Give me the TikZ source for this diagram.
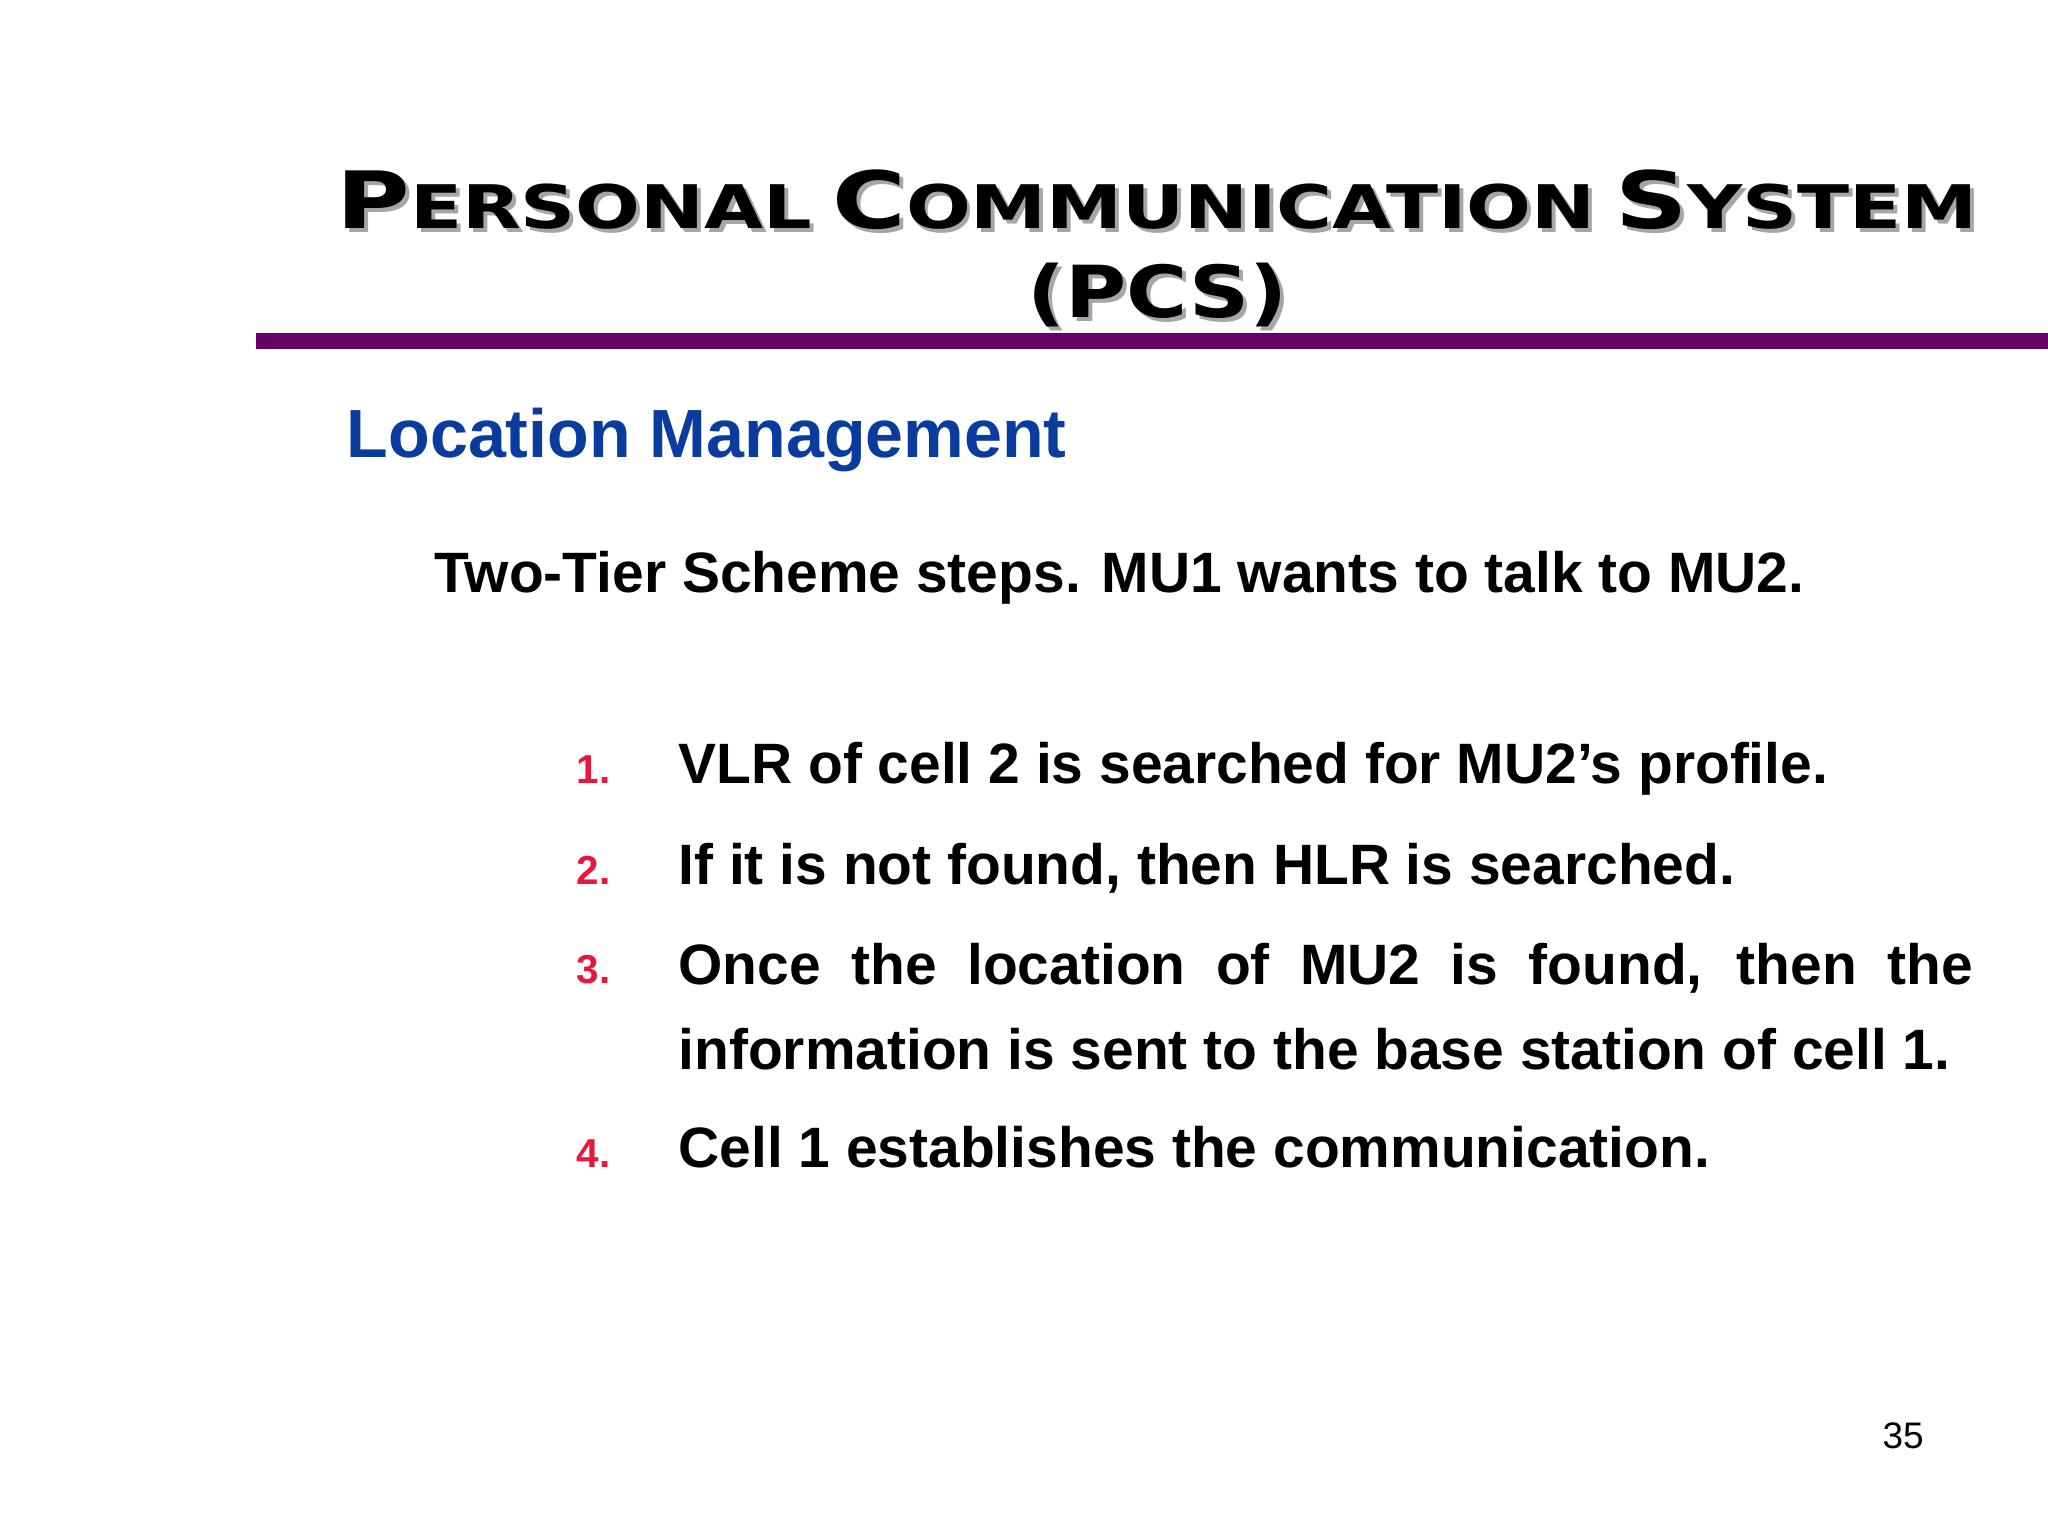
\documentclass[tikz,border=0pt]{standalone}
\usepackage{fontspec}
\setmainfont{Liberation Sans}
\newfontfamily\titlefont{DejaVu Sans}
\definecolor{pur}{HTML}{660066}
\definecolor{lmblue}{HTML}{0A3C9E}
\definecolor{numred}{HTML}{E8173C}
\newcommand{\tsc}[2]{{\fontsize{25}{25}\selectfont #1}{\fontsize{19}{19}\selectfont #2}}
\newcommand{\titleA}{\titlefont\bfseries\tsc{P}{ERSONAL}\hspace{0.5em}\tsc{C}{OMMUNICATION}\hspace{0.5em}\tsc{S}{YSTEM}}
\newcommand{\titleB}{\titlefont\bfseries\tsc{(PCS)}{}}
\tikzset{body/.style={font=\fontsize{16.2}{24}\selectfont\bfseries, anchor=base west, inner sep=0pt},
 num/.style={font=\fontsize{11.5}{14}\selectfont\bfseries, text=numred, anchor=base west, inner sep=0pt}}
\begin{document}
\begin{tikzpicture}[x=0.01306cm,y=-0.01306cm]
\useasboundingbox (0,0) rectangle (1568,1176);
\fill[white] (0,0) rectangle (1568,1176);
\node[anchor=base, inner sep=0pt, text=gray!70] at (889,178) {\resizebox{467pt}{16.7pt}{\titleA}};
\node[anchor=base, inner sep=0pt] (t1) at (886,175) {\resizebox{467pt}{16.7pt}{\titleA}};
\node[anchor=base, inner sep=0pt, text=gray!70] at (889,246) {\resizebox{74pt}{15.5pt}{\titleB}};
\node[anchor=base, inner sep=0pt] (t2) at (886,243) {\resizebox{74pt}{15.5pt}{\titleB}};
\fill[pur] (196,255) rectangle (1568,267);
\node[anchor=base west, inner sep=0pt, text=lmblue, font=\fontsize{19.4}{22}\selectfont\bfseries] (lm) at (265,350) {Location Management};
\node[body] (sub) at (332,454) {Two-Tier Scheme steps. MU1 wants to talk to MU2.};
\node[num] (n1) at (441,600) {1.};
\node[body] (i1) at (519,600) {VLR of cell 2 is searched for MU2’s profile.};
\node[num] (n2) at (441,677) {2.};
\node[body] (i2) at (519,677) {If it is not found, then HLR is searched.};
\node[num] (n3) at (441,753) {3.};
\node[body, anchor=north west] (i3) at (519,722) {\parbox[t]{994\dimexpr0.3705pt\relax}{\fontsize{16.2}{24}\selectfont\bfseries\hyphenpenalty=10000\noindent Once the location of MU2 is found, then the information is sent to the base station of cell 1.}};
\node[num] (n4) at (441,894) {4.};
\node[body] (i4) at (519,894) {Cell 1 establishes the communication.};
\node[anchor=base, inner sep=0pt, font=\fontsize{10.5}{12}\selectfont] (pg) at (1457,1109) {35};
\end{tikzpicture}
\end{document}
